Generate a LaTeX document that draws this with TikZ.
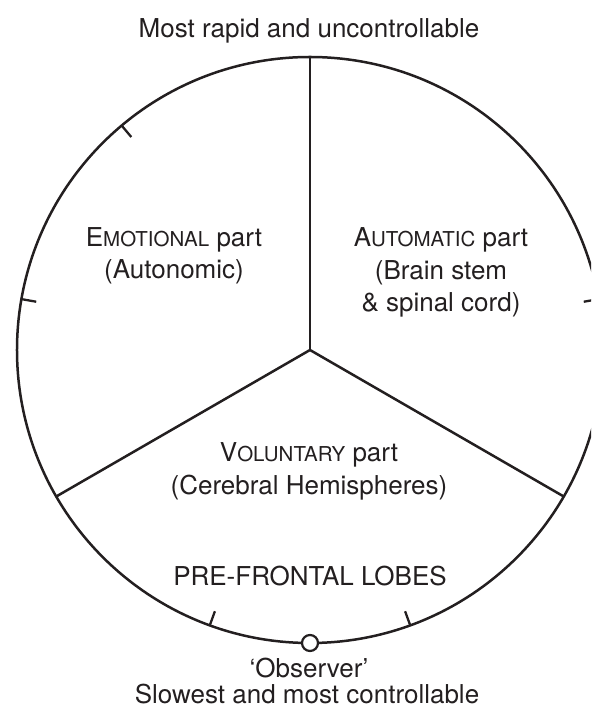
\documentclass[tikz,border=0pt]{standalone}
\usepackage{fontspec}
\setmainfont{TeX Gyre Heros}
\definecolor{ink}{HTML}{231F20}
\newcommand{\lblfont}{\fontsize{26}{31}\selectfont}
\newcommand{\smc}[1]{{\fontsize{20.5}{24}\selectfont #1}}
\begin{document}
\begin{tikzpicture}[x=1pt,y=1pt,line width=2.5pt,draw=ink,
  txt/.style={font=\lblfont, anchor=base, inner sep=0pt, text=ink},
  tick/.style={line width=2.3pt}]
\useasboundingbox (-310,-361) rectangle (281,350);
\clip (-310,-361) rectangle (281,350);
\coordinate (c) at (0,0);
\coordinate (s1) at (90:293);
\coordinate (s2) at (210:293);
\coordinate (s3) at (330:293);
\draw (c) circle (293);
\draw (c) -- (s1);
\draw (c) -- (s2);
\draw (c) -- (s3);
\foreach \a in {10,130,170,250,290}
  \draw[tick] (\a:293) -- (\a:278);
\node[circle, draw=ink, fill=white, minimum size=16pt, inner sep=0pt, line width=2.2pt] (obs) at (270:293) {};
% labels
\node[txt] (top) at (-1,312) {Most rapid and uncontrollable};
\node[txt] (emo1) at (-136,103) {E\smc{MOTIONAL} part};
\node[txt] (emo2) at (-136,71) {(Autonomic)};
\node[txt] (aut1) at (131,103) {A\smc{UTOMATIC} part};
\node[txt] (aut2) at (131,70) {(Brain stem};
\node[txt] (aut3) at (131,38) {\& spinal cord)};
\node[txt] (vol1) at (-1,-112) {V\smc{OLUNTARY} part};
\node[txt] (vol2) at (-1,-145) {(Cerebral Hemispheres)};
\node[txt] (pfl) at (0,-235) {PRE-FRONTAL LOBES};
\node[txt] (obst) at (-1,-327) {‘Observer’};
\node[txt] (slow) at (-3,-353) {Slowest and most controllable};
\end{tikzpicture}
\end{document}
